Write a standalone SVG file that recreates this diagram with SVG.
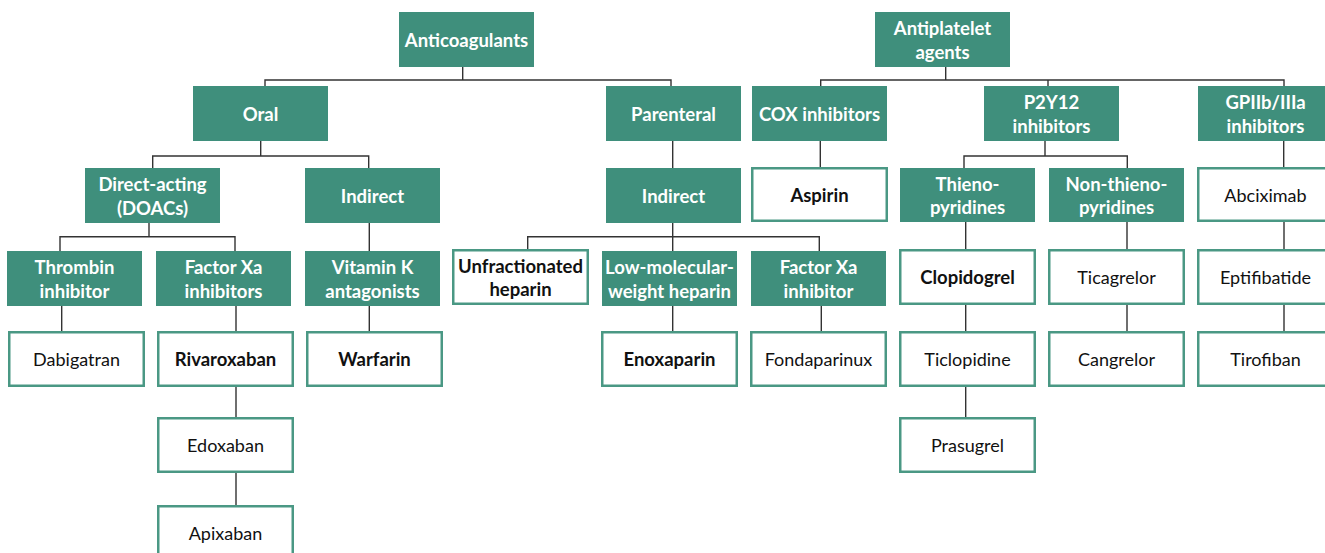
<svg xmlns="http://www.w3.org/2000/svg" width="1325" height="553" viewBox="0 0 1325 553">
<style>
.g rect{fill:#3f8f7c}
.g text{fill:#fff;font-weight:bold}
.w rect{fill:#fff;stroke:#4a9884;stroke-width:2.5}
.w text{fill:#111}
.b text{font-weight:bold;font-size:18.5px}
text{font-family:Lato,"Liberation Sans",sans-serif;font-size:18px;text-anchor:middle}
.g text{font-size:18.5px}
.c path{fill:none;stroke:#333;stroke-width:1.4}
</style>
<rect width="1325" height="553" fill="#fff"/>
<g class="c">
<path d="M462.7,67V80M265,86V80H671V86"/>
<path d="M945.7,67V80M820.7,86V80H1284V86M1048,80V86"/>
<path d="M260.7,141V156M152.7,168V156H368.7V168"/>
<path d="M672.7,141V168"/>
<path d="M820.3,141V167"/>
<path d="M1045,141V156M964,168V156H1127.3V168"/>
<path d="M1283.7,141V167"/>
<path d="M149,223V236.7M60,251V236.7H235V251"/>
<path d="M369.3,223V251"/>
<path d="M672.7,223V251M527.7,249V236.7H819.3V251"/>
<path d="M965.7,222V249M1127,222V249M1284,222V249"/>
<path d="M61.7,306V331M236,306V331M236,387V417M236,473V505"/>
<path d="M369.3,306V331M672.7,306V331M821.3,306V331"/>
<path d="M965.7,305V331M965.7,387V417M1127,305V331M1284,305V331"/>
</g>
<g id="anticoagulants" class="g"><rect x="399" y="12" width="135" height="55"/><text x="466.5" y="47">Anticoagulants</text></g>
<g id="antiplatelet" class="g"><rect x="875" y="12" width="135" height="55"/><text x="942.5" y="35.3">Antiplatelet</text><text x="942.5" y="58.6">agents</text></g>
<g id="oral" class="g"><rect x="193" y="86" width="135" height="55"/><text x="260.5" y="121">Oral</text></g>
<g id="parenteral" class="g"><rect x="606" y="86" width="135" height="55"/><text x="673.5" y="121">Parenteral</text></g>
<g id="cox" class="g"><rect x="752" y="86" width="135" height="55"/><text x="819.5" y="121">COX inhibitors</text></g>
<g id="p2y12" class="g"><rect x="984" y="86" width="135" height="55"/><text x="1051.5" y="109.3">P2Y12</text><text x="1051.5" y="132.6">inhibitors</text></g>
<g id="gp" class="g"><rect x="1198" y="86" width="135" height="55"/><text x="1265.5" y="109.3">GPIIb/IIIa</text><text x="1265.5" y="132.6">inhibitors</text></g>
<g id="doacs" class="g"><rect x="85" y="168" width="135" height="55"/><text x="152.5" y="191.3">Direct-acting</text><text x="152.5" y="214.6">(DOACs)</text></g>
<g id="indirect-oral" class="g"><rect x="305" y="168" width="135" height="55"/><text x="372.5" y="203">Indirect</text></g>
<g id="indirect-par" class="g"><rect x="606" y="168" width="135" height="55"/><text x="673.5" y="203">Indirect</text></g>
<g id="thieno" class="g"><rect x="900" y="168" width="135" height="54"/><text x="967.5" y="190.8">Thieno-</text><text x="967.5" y="214.1">pyridines</text></g>
<g id="nonthieno" class="g"><rect x="1049" y="168" width="135" height="54"/><text x="1116.5" y="190.8">Non-thieno-</text><text x="1116.5" y="214.1">pyridines</text></g>
<g id="thrombin" class="g"><rect x="7" y="251" width="135" height="55"/><text x="74.5" y="274.3">Thrombin</text><text x="74.5" y="297.6">inhibitor</text></g>
<g id="fxa" class="g"><rect x="156" y="251" width="135" height="55"/><text x="223.5" y="274.3">Factor Xa</text><text x="223.5" y="297.6">inhibitors</text></g>
<g id="vka" class="g"><rect x="305" y="251" width="135" height="55"/><text x="372.5" y="274.3">Vitamin K</text><text x="372.5" y="297.6">antagonists</text></g>
<g id="lmwh" class="g"><rect x="602" y="251" width="135" height="55"/><text x="669.5" y="274.3">Low-molecular-</text><text x="669.5" y="297.6">weight heparin</text></g>
<g id="fxa2" class="g"><rect x="751" y="251" width="135" height="55"/><text x="818.5" y="274.3">Factor Xa</text><text x="818.5" y="297.6">inhibitor</text></g>
<g id="aspirin" class="w b"><rect x="752.25" y="168.25" width="134.5" height="52.5"/><text x="819.5" y="201.5">Aspirin</text></g>
<g id="abciximab" class="w"><rect x="1198.25" y="168.25" width="134.5" height="52.5"/><text x="1265.5" y="201.5">Abciximab</text></g>
<g id="ufh" class="w b"><rect x="453.25" y="250.25" width="134.5" height="53.5"/><text x="520.5" y="272.8">Unfractionated</text><text x="520.5" y="296.1">heparin</text></g>
<g id="clopidogrel" class="w b"><rect x="900.25" y="250.25" width="134.5" height="53.5"/><text x="967.5" y="284">Clopidogrel</text></g>
<g id="ticagrelor" class="w"><rect x="1049.25" y="250.25" width="134.5" height="53.5"/><text x="1116.5" y="284">Ticagrelor</text></g>
<g id="eptifibatide" class="w"><rect x="1198.25" y="250.25" width="134.5" height="53.5"/><text x="1265.5" y="284">Eptifibatide</text></g>
<g id="dabigatran" class="w"><rect x="9.25" y="332.25" width="134.5" height="53.5"/><text x="76.5" y="366">Dabigatran</text></g>
<g id="rivaroxaban" class="w b"><rect x="158.25" y="332.25" width="134.5" height="53.5"/><text x="225.5" y="366">Rivaroxaban</text></g>
<g id="warfarin" class="w b"><rect x="307.25" y="332.25" width="134.5" height="53.5"/><text x="374.5" y="366">Warfarin</text></g>
<g id="enoxaparin" class="w b"><rect x="602.25" y="332.25" width="134.5" height="53.5"/><text x="669.5" y="366">Enoxaparin</text></g>
<g id="fondaparinux" class="w"><rect x="751.25" y="332.25" width="134.5" height="53.5"/><text x="818.5" y="366">Fondaparinux</text></g>
<g id="ticlopidine" class="w"><rect x="900.25" y="332.25" width="134.5" height="53.5"/><text x="967.5" y="366">Ticlopidine</text></g>
<g id="cangrelor" class="w"><rect x="1049.25" y="332.25" width="134.5" height="53.5"/><text x="1116.5" y="366">Cangrelor</text></g>
<g id="tirofiban" class="w"><rect x="1198.25" y="332.25" width="134.5" height="53.5"/><text x="1265.5" y="366">Tirofiban</text></g>
<g id="edoxaban" class="w"><rect x="158.25" y="418.25" width="134.5" height="53.5"/><text x="225.5" y="452">Edoxaban</text></g>
<g id="prasugrel" class="w"><rect x="900.25" y="418.25" width="134.5" height="53.5"/><text x="967.5" y="452">Prasugrel</text></g>
<g id="apixaban" class="w"><rect x="158.25" y="506.25" width="134.5" height="53.5"/><text x="225.5" y="540">Apixaban</text></g>
</svg>
